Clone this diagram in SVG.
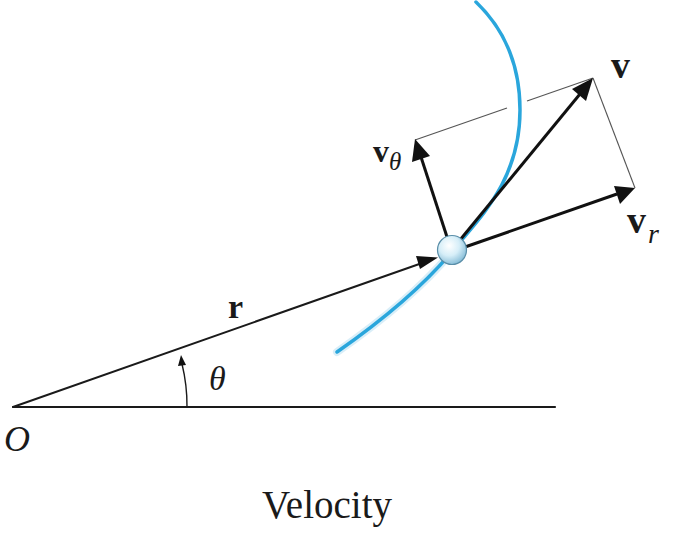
<svg xmlns="http://www.w3.org/2000/svg" width="676" height="547" viewBox="0 0 676 547">
<style>
.ln{stroke:#1a1a1a;fill:none;stroke-linecap:round}
.thin{stroke:#555;stroke-width:1.1;fill:none}
.vec{stroke:#111;stroke-width:3;fill:none}
.hd{fill:#111}
.t{font-family:"Liberation Serif","Times New Roman",serif;fill:#1a1a1a}
.b{font-weight:bold}
.i{font-style:italic}
</style>
<defs>
<radialGradient id="ballg" cx="0.4" cy="0.35" r="0.7">
<stop offset="0" stop-color="#ffffff"/>
<stop offset="0.5" stop-color="#d6eef8"/>
<stop offset="1" stop-color="#7fb8d4"/>
</radialGradient>
</defs>
<rect width="676" height="547" fill="#fff"/>
<g id="axis">
<line class="ln" x1="13" y1="407" x2="555" y2="407" stroke-width="2.2"/>
</g>
<g id="path">
<path d="M337 352 C380 322 425 285 455 248" stroke="#bfe3f3" stroke-width="8" fill="none" stroke-linecap="round" opacity="0.6"/>
<path d="M337 352 C380 322 425 285 455 248 C480 217 520 180 520 110 C520 60 500 25 476 2" stroke="#2aa6dc" stroke-width="3.5" fill="none" stroke-linecap="round"/>
</g>
<g id="connectors">
<line class="thin" x1="415" y1="140" x2="507" y2="108"/>
<line class="thin" x1="527" y1="101" x2="593" y2="78"/>
<line class="thin" x1="593" y1="78" x2="635" y2="188"/>
<line class="ln" x1="13" y1="407" x2="425" y2="262" stroke-width="2"/>
<polygon class="hd" points="438,257.5 420,269 416,256"/>
<path class="ln" d="M187 407 A174 174 0 0 0 182 364" stroke-width="1.4"/>
<polygon class="hd" points="181,355 178,366 186,365"/>
<line class="vec" x1="448" y1="240" x2="421" y2="157"/>
<polygon class="hd" points="415,139 412,162 430,156"/>
<line class="vec" x1="460" y1="240" x2="580" y2="94"/>
<polygon class="hd" points="593,78 586,101 572,89"/>
<line class="vec" x1="465" y1="247" x2="617" y2="194"/>
<polygon class="hd" points="635,188 620,204 614,186"/>
</g>
<g id="particle">
<circle cx="452" cy="250" r="14.5" fill="url(#ballg)" stroke="#5a8ea8" stroke-width="1.2"/>
</g>
<g id="labels">
<text class="t i" x="4" y="451" font-size="36">O</text>
<text class="t i" x="209" y="390" font-size="34">θ</text>
<text class="t b" x="228" y="318" font-size="34">r</text>
<text class="t b" x="611" y="78" font-size="38">v</text>
<text class="t b" x="627" y="233" font-size="38">v</text>
<text class="t i" x="648" y="243" font-size="28">r</text>
<text class="t b" x="373" y="162" font-size="32">v</text>
<text class="t i" x="389" y="170" font-size="25">θ</text>
<text class="t" x="327" y="518" font-size="39" text-anchor="middle">Velocity</text>
</g>
</svg>
